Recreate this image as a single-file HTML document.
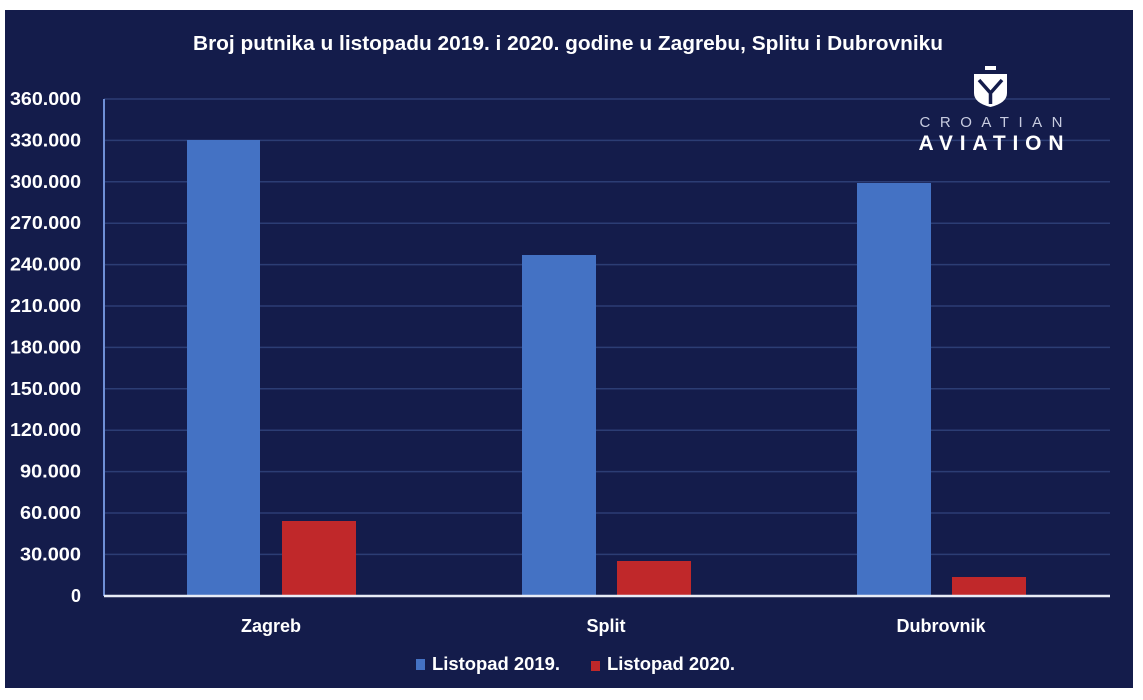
<!DOCTYPE html>
<html><head><meta charset="utf-8"><style>
html,body{margin:0;padding:0;background:#fff;}
svg{display:block;}
text{font-family:"Liberation Sans",sans-serif;fill:#fff;}
</style></head><body>
<svg width="1143" height="700" viewBox="0 0 1143 700">
<rect x="0" y="0" width="1143" height="700" fill="#fff"/>
<rect x="5" y="10" width="1128" height="678" fill="#141c4b"/>
<text x="568" y="50" font-size="20" font-weight="bold" text-anchor="middle" textLength="750" lengthAdjust="spacingAndGlyphs">Broj putnika u listopadu 2019. i 2020. godine u Zagrebu, Splitu i Dubrovniku</text>
<g stroke="#2c3d74" stroke-width="1.5">
<line x1="104" x2="1110" y1="99" y2="99"/>
<line x1="104" x2="1110" y1="140.4" y2="140.4"/>
<line x1="104" x2="1110" y1="181.8" y2="181.8"/>
<line x1="104" x2="1110" y1="223.2" y2="223.2"/>
<line x1="104" x2="1110" y1="264.6" y2="264.6"/>
<line x1="104" x2="1110" y1="306" y2="306"/>
<line x1="104" x2="1110" y1="347.4" y2="347.4"/>
<line x1="104" x2="1110" y1="388.8" y2="388.8"/>
<line x1="104" x2="1110" y1="430.2" y2="430.2"/>
<line x1="104" x2="1110" y1="471.6" y2="471.6"/>
<line x1="104" x2="1110" y1="513" y2="513"/>
<line x1="104" x2="1110" y1="554.4" y2="554.4"/>
</g>
<line x1="104" x2="104" y1="99" y2="596" stroke="#6f8fd6" stroke-width="2"/>
<g font-size="18" font-weight="bold" text-anchor="end">
<text x="81" y="105" textLength="71" lengthAdjust="spacingAndGlyphs">360.000</text>
<text x="81" y="146.4" textLength="71" lengthAdjust="spacingAndGlyphs">330.000</text>
<text x="81" y="187.8" textLength="71" lengthAdjust="spacingAndGlyphs">300.000</text>
<text x="81" y="229.2" textLength="71" lengthAdjust="spacingAndGlyphs">270.000</text>
<text x="81" y="270.6" textLength="71" lengthAdjust="spacingAndGlyphs">240.000</text>
<text x="81" y="312" textLength="71" lengthAdjust="spacingAndGlyphs">210.000</text>
<text x="81" y="353.4" textLength="71" lengthAdjust="spacingAndGlyphs">180.000</text>
<text x="81" y="394.8" textLength="71" lengthAdjust="spacingAndGlyphs">150.000</text>
<text x="81" y="436.2" textLength="71" lengthAdjust="spacingAndGlyphs">120.000</text>
<text x="81" y="477.6" textLength="61" lengthAdjust="spacingAndGlyphs">90.000</text>
<text x="81" y="519" textLength="61" lengthAdjust="spacingAndGlyphs">60.000</text>
<text x="81" y="560.4" textLength="61" lengthAdjust="spacingAndGlyphs">30.000</text>
<text x="81" y="602">0</text>
</g>
<g fill="#4472c4">
<rect x="187" y="140" width="73" height="456"/>
<rect x="522" y="255" width="74" height="341"/>
<rect x="857" y="183" width="74" height="413"/>
</g>
<g fill="#c0282a">
<rect x="282" y="521" width="74" height="75"/>
<rect x="617" y="561" width="74" height="35"/>
<rect x="952" y="577" width="74" height="19"/>
</g>
<line x1="104" x2="1110" y1="596" y2="596" stroke="#e8ecf6" stroke-width="2.5"/>
<g font-size="18" font-weight="bold" text-anchor="middle">
<text x="271" y="632">Zagreb</text>
<text x="606" y="632">Split</text>
<text x="941" y="632">Dubrovnik</text>
</g>
<rect x="416" y="659" width="9" height="11" fill="#4472c4"/>
<text x="432" y="670" font-size="18" font-weight="bold" textLength="128" lengthAdjust="spacingAndGlyphs">Listopad 2019.</text>
<rect x="591" y="661" width="9" height="10" fill="#c0282a"/>
<text x="607" y="670" font-size="18" font-weight="bold" textLength="128" lengthAdjust="spacingAndGlyphs">Listopad 2020.</text>
<!-- logo -->
<g fill="#fff">
<path d="M974 74 L1007 74 L1007 93 Q1007 103 990.5 107 Q974 103 974 93 Z"/>
<rect x="985" y="66" width="11" height="4"/>
</g>
<path d="M979 80 L990.5 93 L1002 80 M990.5 93 L990.5 104" stroke="#141c4b" stroke-width="3.5" fill="none"/>
<text x="991" y="127" font-size="15" text-anchor="middle" textLength="143" lengthAdjust="spacing" style="fill:#c8cce0">CROATIAN</text>
<text x="991" y="150" font-size="21" font-weight="bold" text-anchor="middle" textLength="145" lengthAdjust="spacing">AVIATION</text>
</svg>
</body></html>
